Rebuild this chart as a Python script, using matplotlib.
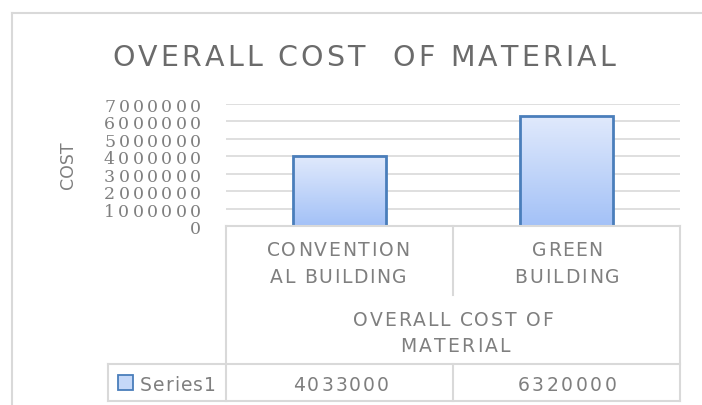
import matplotlib.pyplot as plt
import numpy as np
from matplotlib.lines import Line2D
from matplotlib.colors import LinearSegmentedColormap

# data
categories = [["CONVENTION", "AL BUILDING"], ["GREEN", "BUILDING"]]
group_label = ["OVERALL COST OF", "MATERIAL"]
series_name = "Series1"
values = [4033000, 6320000]
yticks = [0, 1000000, 2000000, 3000000, 4000000, 5000000, 6000000, 7000000]
title = "OVERALL COST  OF MATERIAL"

W, H = 702, 406
grey = "#7f7f7f"
line_c = "#d9d9d9"

fig = plt.figure(figsize=(W / 100, H / 100), dpi=100)
renderer = fig.canvas.get_renderer()


def fx(px):
    return px / W


def fy(py):
    return 1 - py / H


def spaced(x, y, s, width=None, gap=0.0, ha="center", **kw):
    # letter-spaced text; y is the baseline in pixels from the top,
    # width (if given) is the total width the string should fill
    widths = []
    for ch in s:
        t = fig.text(0, 0, ch, **kw)
        widths.append(t.get_window_extent(renderer).width)
        t.remove()
    if width is not None and len(s) > 1:
        gap = max((width - sum(widths)) / (len(s) - 1), 0)
    total = sum(widths) + gap * (len(s) - 1)
    if ha == "center":
        pos = x - total / 2
    elif ha == "right":
        pos = x - total
    else:
        pos = x
    for ch, w in zip(s, widths):
        fig.text(fx(pos), fy(y), ch, ha="left", va="baseline", **kw)
        pos += w + gap


# plot area
x0, x1, ytop, ybot = 226, 680, 105, 227
ax = fig.add_axes([fx(x0), fy(ybot), fx(x1) - fx(x0), fy(ytop) - fy(ybot)])
ax.set_yticks(yticks)
ax.set_yticklabels([])
ax.tick_params(axis="y", length=0)
ax.set_xticks([])
for s in ax.spines.values():
    s.set_visible(False)
ax.yaxis.grid(True, color=line_c, lw=1.2)
ax.set_axisbelow(True)

# gradient bars
grad = np.linspace(0, 1, 256).reshape(-1, 1)
cmap = LinearSegmentedColormap.from_list("g", ["#a3c1f7", "#e1eafc"])
bars = ax.bar(range(len(values)), values, width=0.41, color="none",
              edgecolor="#4a7ebb", linewidth=2, zorder=3)
for b in bars:
    im = ax.imshow(grad, cmap=cmap, aspect="auto", origin="lower",
                   extent=[b.get_x(), b.get_x() + b.get_width(), 0, b.get_height()],
                   zorder=2)
    im.set_clip_path(b)
ax.set_xlim(-0.5, len(values) - 0.5)
ax.set_ylim(0, 7000000)

# y tick labels (wide serif digits)
for t in yticks:
    gy = H - ax.transData.transform((0, t))[1]
    lab = str(t)
    spaced(201, gy + 7, lab, width=14 * len(lab) - 1, ha="right",
           family="DejaVu Serif", fontsize=12.5, color=grey)

fig.text(fx(68), fy(165), "COST", rotation=90, ha="center", va="center",
         family="DejaVu Sans", fontsize=12.5, color=grey)
spaced(363.5, 66, title, width=503, family="DejaVu Sans", fontsize=20.5,
       color="#6b6b6b")


# outer frame and table lines
def hline(y, xa, xb):
    fig.add_artist(Line2D([fx(xa), fx(xb)], [fy(y), fy(y)], color=line_c, lw=1.5))


def vline(x, ya, yb):
    fig.add_artist(Line2D([fx(x), fx(x)], [fy(ya), fy(yb)], color=line_c, lw=1.5))


hline(14, 12, 702)
vline(12, 14, 406)
hline(227, 226, 680)
vline(226, 227, 402)
vline(680, 227, 402)
vline(453, 227, 296)
vline(453, 365, 402)
hline(365, 108, 680)
hline(402, 108, 680)
vline(108, 365, 402)

txt = dict(family="DejaVu Sans", fontsize=13.5, color=grey)
cat_x = [338, 567]
cat_w = [[143, 137], [70, 105]]
val_x = [341, 567]
val_w = [96, 99]
for i in range(len(values)):
    spaced(cat_x[i], 256, categories[i][0], width=cat_w[i][0], **txt)
    spaced(cat_x[i], 283, categories[i][1], width=cat_w[i][1], **txt)
    spaced(val_x[i], 391, str(values[i]), width=val_w[i], **txt)
spaced(453, 326, group_label[0], width=200, **txt)
spaced(455, 352, group_label[1], width=110, **txt)

# legend key
fig.add_artist(plt.Rectangle((fx(118), fy(391)), fx(15), fy(376) - fy(391),
                             facecolor="#c5d8f8", edgecolor="#4a7ebb", lw=1.3))
spaced(140, 391, series_name, width=76, ha="left", **txt)

fig.savefig("out.png", dpi=100)
